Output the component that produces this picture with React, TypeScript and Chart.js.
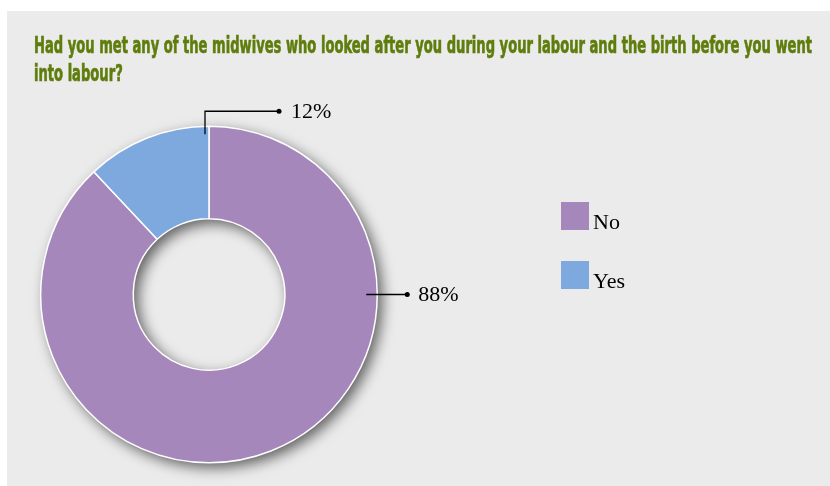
import React, { useEffect, useRef } from "react";
import { Chart, registerables } from "chart.js";

Chart.register(...registerables);

const titleLines = [
  "Had you met any of the midwives who looked after you during your labour and the birth before you went",
  "into labour?",
];
const categories = ["No", "Yes"];
const values = [88, 12];
const sliceColors = ["#a687bb", "#7ea9df"];
const valueLabels = ["88%", "12%"];

const decorPlugin = {
  id: "decor",
  beforeDraw(chart: any) {
    const ctx = chart.ctx;
    ctx.save();
    ctx.fillStyle = "#ffffff";
    ctx.fillRect(0, 0, chart.width, chart.height);
    ctx.fillStyle = "#ebebeb";
    ctx.fillRect(7, 11, chart.width - 7, chart.height - 11);
    // title
    ctx.fillStyle = "#5f7d0c";
    ctx.strokeStyle = "#5f7d0c";
    ctx.lineWidth = 0.6;
    ctx.font = 'bold 20px "DejaVu Sans Condensed", "Liberation Sans Narrow", sans-serif';
    ctx.textBaseline = "alphabetic";
    const w = ctx.measureText(titleLines[0]).width;
    const sx = 778 / w;
    ctx.save();
    ctx.translate(34, 0);
    ctx.scale(sx, 1.12);
    ctx.fillText(titleLines[0], 0, 53 / 1.12);
    ctx.strokeText(titleLines[0], 0, 53 / 1.12);
    ctx.fillText(titleLines[1], 0, 81 / 1.12);
    ctx.strokeText(titleLines[1], 0, 81 / 1.12);
    ctx.restore();
    ctx.restore();
  },
  beforeDatasetsDraw(chart: any) {
    const meta = chart.getDatasetMeta(0);
    const a = meta.data[0];
    if (!a) return;
    const ctx = chart.ctx;
    ctx.save();
    ctx.shadowColor = "rgba(0,0,0,0.6)";
    ctx.shadowBlur = 14;
    ctx.shadowOffsetX = 5;
    ctx.shadowOffsetY = 5;
    ctx.beginPath();
    ctx.arc(a.x, a.y, a.outerRadius, 0, Math.PI * 2);
    ctx.arc(a.x, a.y, a.innerRadius, 0, Math.PI * 2, true);
    ctx.closePath();
    ctx.fillStyle = sliceColors[0];
    ctx.fill();
    ctx.restore();
  },
  afterDatasetsDraw(chart: any) {
    const meta = chart.getDatasetMeta(0);
    const a = meta.data[0];
    if (!a) return;
    const ctx = chart.ctx;
    const cx = a.x, cy = a.y, R = a.outerRadius;
    ctx.save();
    ctx.strokeStyle = "#000000";
    ctx.fillStyle = "#000000";
    ctx.lineWidth = 1.3;
    ctx.font = '22px "Liberation Serif", "Times New Roman", serif';
    ctx.textBaseline = "middle";
    // 12% label
    const x1 = cx - 4, y1 = cy - R + 8, yTop = cy - R - 15, x2 = cx + 70;
    ctx.beginPath();
    ctx.moveTo(x1, y1);
    ctx.lineTo(x1, yTop);
    ctx.lineTo(x2, yTop);
    ctx.stroke();
    ctx.beginPath();
    ctx.arc(x2, yTop, 2.5, 0, Math.PI * 2);
    ctx.fill();
    ctx.fillText(valueLabels[1], x2 + 12, yTop + 1);
    // 88% label
    const x3 = cx + R - 11, x4 = cx + R + 30;
    ctx.beginPath();
    ctx.moveTo(x3, cy);
    ctx.lineTo(x4, cy);
    ctx.stroke();
    ctx.beginPath();
    ctx.arc(x4, cy, 2.5, 0, Math.PI * 2);
    ctx.fill();
    ctx.fillText(valueLabels[0], x4 + 11, cy + 1);
    // legend
    ctx.textBaseline = "alphabetic";
    categories.forEach((c, i) => {
      const top = 202 + i * 59;
      ctx.fillStyle = sliceColors[i];
      ctx.fillRect(561, top, 28, 28);
      ctx.fillStyle = "#000000";
      ctx.fillText(c, 593, top + 27);
    });
    ctx.restore();
  },
};

export default function App() {
  const ref = useRef<HTMLCanvasElement | null>(null);
  useEffect(() => {
    if (!ref.current) return;
    const chart = new Chart(ref.current, {
      type: "doughnut",
      data: {
        labels: categories,
        datasets: [
          {
            data: values,
            backgroundColor: sliceColors,
            borderColor: "#ffffff",
            borderWidth: 1.5,
          },
        ],
      },
      options: {
        responsive: false,
        animation: false,
        devicePixelRatio: 1,
        cutout: "45%",
        layout: { padding: { left: 40, top: 125, right: 452, bottom: 22 } },
        plugins: {
          legend: { display: false },
          tooltip: { enabled: false },
          title: { display: false },
        },
      },
      plugins: [decorPlugin],
    } as any);
    return () => chart.destroy();
  }, []);
  return (
    <div style={{ position: "absolute", left: 0, top: 0, width: 830, height: 486 }}>
      <canvas ref={ref} width={830} height={486} style={{ display: "block" }} />
    </div>
  );
}
